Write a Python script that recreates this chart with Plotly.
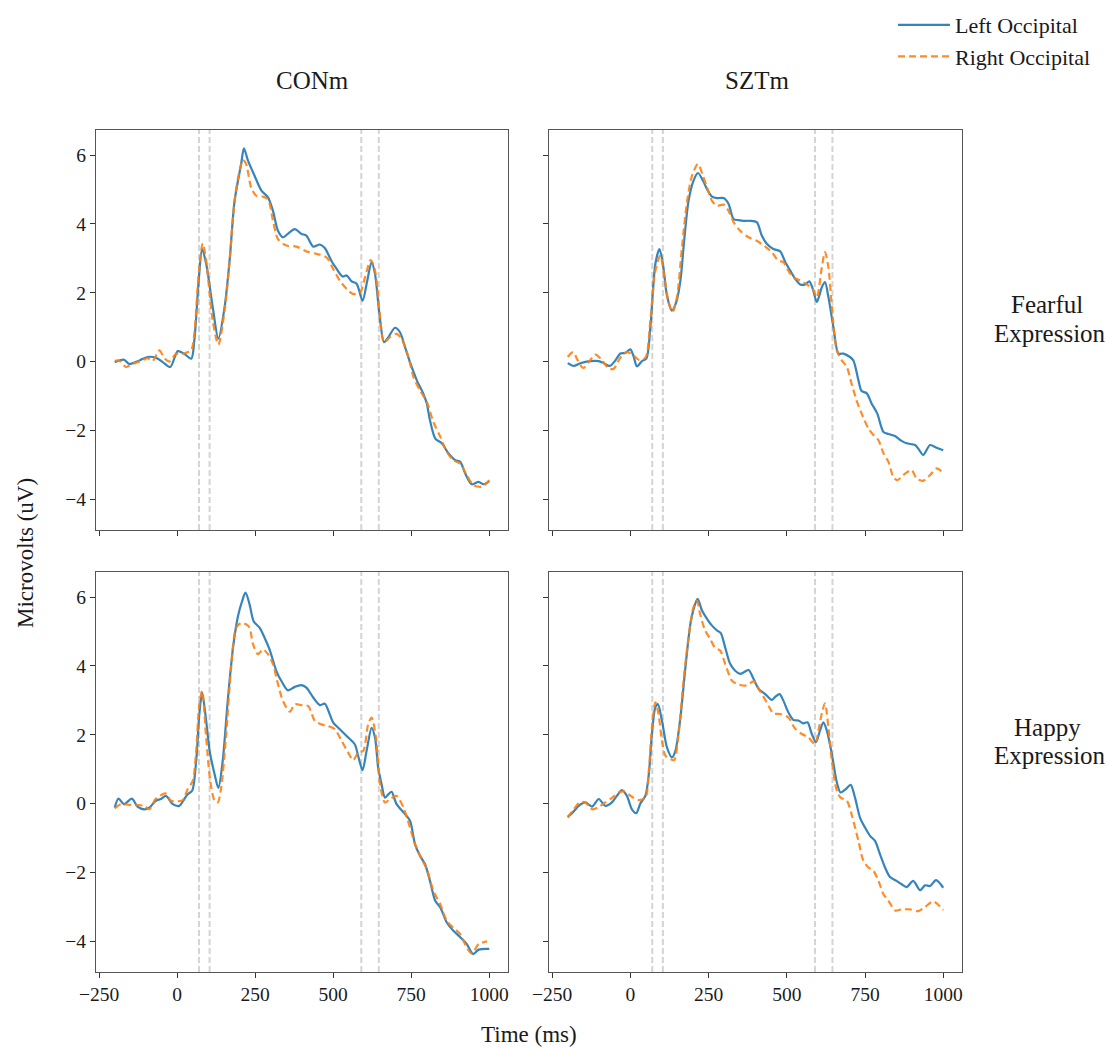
import plotly.graph_objects as go
from plotly.subplots import make_subplots

# ---------------- data ----------------
col_titles = ["CONm", "SZTm"]
row_titles = [["Fearful", "Expression"], ["Happy", "Expression"]]
series_names = ["Left Occipital", "Right Occipital"]
x_ticks = [-250, 0, 250, 500, 750, 1000]
y_ticks = [-4, -2, 0, 2, 4, 6]
marker_times = [70, 104, 590, 646]

# CONm - Fearful
con_fear_left_t = [-200, -170, -154, -121, -95, -68, -46, -22, 2, 23, 45, 55, 69, 80, 93, 114, 132, 152, 168, 184, 205, 214, 227, 248, 270, 291, 307, 323, 339, 361, 377, 398, 414, 436, 457, 473, 494, 511, 530, 543, 559, 575, 594, 609, 623, 634, 648, 663, 677, 698, 714, 730, 746, 768, 789, 800, 810, 827, 848, 869, 891, 907, 923, 944, 966, 982, 1000]
con_fear_left_v = [-0.02, 0.05, -0.07, 0.03, 0.13, 0.11, -0.02, -0.16, 0.3, 0.22, 0.08, 0.61, 2.35, 3.27, 2.84, 1.58, 0.66, 1.58, 2.93, 4.67, 5.74, 6.2, 5.84, 5.4, 4.97, 4.77, 4.38, 3.8, 3.61, 3.76, 3.85, 3.71, 3.66, 3.34, 3.4, 3.3, 2.93, 2.69, 2.47, 2.5, 2.33, 2.26, 1.77, 2.35, 2.89, 2.54, 1.38, 0.56, 0.71, 0.98, 0.85, 0.42, -0.02, -0.55, -0.94, -1.23, -1.71, -2.24, -2.38, -2.67, -2.87, -2.92, -3.26, -3.57, -3.5, -3.57, -3.48]
con_fear_right_t = [-200, -186, -164, -143, -111, -95, -79, -57, -41, -25, -4, 18, 45, 55, 69, 82, 93, 114, 132, 152, 168, 184, 200, 211, 221, 237, 253, 275, 291, 307, 323, 350, 382, 414, 446, 478, 500, 521, 543, 564, 586, 602, 620, 634, 648, 663, 682, 703, 719, 741, 757, 778, 800, 821, 843, 864, 885, 907, 928, 950, 977, 1000]
con_fear_right_v = [0.02, 0.03, -0.16, -0.07, 0.03, 0.1, 0.01, 0.32, 0.1, 0.0, 0.22, 0.22, 0.34, 0.8, 2.54, 3.43, 2.93, 1.19, 0.49, 1.48, 2.93, 4.67, 5.55, 5.86, 5.74, 5.06, 4.82, 4.79, 4.72, 4.1, 3.56, 3.37, 3.34, 3.2, 3.13, 3.03, 2.69, 2.35, 2.11, 1.96, 2.01, 2.45, 2.95, 2.64, 1.48, 0.56, 0.71, 0.8, 0.66, 0.13, -0.45, -0.84, -1.18, -1.76, -2.19, -2.63, -2.87, -2.97, -3.31, -3.6, -3.64, -3.45]

# SZTm - Fearful
szt_fear_left_t = [-200, -181, -160, -128, -101, -85, -66, -48, -32, -16, 0, 11, 21, 37, 51, 64, 80, 93, 104, 117, 133, 147, 160, 172, 186, 202, 216, 232, 245, 261, 277, 298, 314, 330, 346, 362, 383, 404, 420, 436, 457, 479, 495, 511, 527, 543, 559, 572, 583, 596, 612, 622, 633, 649, 665, 681, 702, 713, 729, 739, 755, 771, 789, 809, 825, 846, 867, 883, 910, 920, 936, 958, 979, 1000]
szt_fear_left_v = [-0.05, -0.13, -0.05, 0.01, 0.01, -0.05, -0.13, 0.03, 0.23, 0.25, 0.35, 0.13, -0.14, 0.01, 0.08, 1.0, 2.84, 3.27, 2.84, 1.92, 1.48, 1.73, 2.35, 3.51, 4.67, 5.26, 5.48, 5.26, 5.01, 4.79, 4.75, 4.75, 4.58, 4.14, 4.11, 4.09, 4.09, 4.05, 3.66, 3.42, 3.27, 3.2, 2.89, 2.64, 2.4, 2.24, 2.24, 2.33, 2.11, 1.73, 2.16, 2.31, 1.87, 1.0, 0.23, 0.23, 0.13, 0.03, -0.55, -0.86, -0.92, -1.22, -1.51, -2.05, -2.11, -2.17, -2.31, -2.38, -2.43, -2.53, -2.72, -2.43, -2.51, -2.58]
szt_fear_right_t = [-200, -183, -168, -151, -133, -112, -90, -69, -53, -32, -11, 11, 27, 48, 64, 80, 96, 109, 122, 135, 149, 165, 181, 197, 216, 232, 245, 261, 277, 298, 314, 330, 351, 378, 404, 431, 452, 473, 489, 505, 521, 543, 564, 583, 596, 612, 622, 633, 644, 660, 676, 692, 707, 723, 739, 761, 777, 793, 809, 825, 840, 853, 878, 899, 915, 936, 958, 979, 1000]
szt_fear_right_v = [0.13, 0.27, 0.03, -0.19, -0.02, 0.2, 0.03, -0.21, -0.21, 0.11, 0.27, 0.17, 0.05, 0.11, 1.19, 2.64, 3.08, 2.45, 1.73, 1.44, 1.87, 3.32, 4.63, 5.4, 5.74, 5.4, 5.06, 4.67, 4.53, 4.56, 4.38, 4.05, 3.8, 3.61, 3.51, 3.34, 3.18, 2.93, 2.89, 2.64, 2.45, 2.35, 2.24, 2.11, 1.87, 2.74, 3.18, 2.74, 1.58, 0.32, 0.03, -0.16, -0.64, -1.13, -1.51, -1.95, -2.14, -2.29, -2.67, -2.92, -3.35, -3.45, -3.26, -3.16, -3.4, -3.47, -3.3, -3.11, -3.24]

# CONm - Happy
con_happy_left_t = [-200, -188, -170, -145, -127, -105, -89, -68, -52, -36, -14, 7, 23, 34, 48, 61, 71, 80, 93, 104, 120, 132, 146, 162, 179, 195, 208, 219, 232, 245, 264, 280, 296, 318, 334, 355, 377, 398, 414, 436, 457, 473, 489, 500, 521, 543, 569, 580, 594, 607, 623, 634, 644, 655, 666, 677, 687, 703, 725, 746, 762, 778, 794, 810, 827, 843, 864, 885, 907, 928, 948, 966, 1000]
con_happy_left_v = [-0.12, 0.14, -0.02, 0.14, -0.09, -0.17, -0.12, 0.08, 0.13, 0.22, -0.02, -0.07, 0.13, 0.27, 0.37, 1.24, 2.59, 3.22, 2.4, 1.53, 0.85, 0.45, 1.24, 2.98, 4.53, 5.45, 5.88, 6.13, 5.79, 5.3, 5.11, 4.82, 4.48, 3.85, 3.56, 3.29, 3.39, 3.44, 3.37, 3.08, 2.86, 2.9, 2.59, 2.35, 2.16, 1.96, 1.72, 1.38, 0.97, 1.53, 2.2, 1.91, 1.04, 0.56, 0.17, 0.27, 0.34, -0.02, -0.26, -0.5, -1.18, -1.52, -1.76, -2.25, -2.83, -3.02, -3.46, -3.7, -3.89, -4.09, -4.38, -4.25, -4.23]
con_happy_right_t = [-200, -180, -154, -122, -105, -89, -68, -36, -20, 2, 18, 34, 50, 61, 71, 80, 93, 106, 120, 130, 141, 157, 173, 189, 205, 221, 232, 243, 259, 275, 291, 307, 323, 339, 361, 377, 398, 420, 441, 462, 484, 505, 527, 548, 564, 580, 596, 612, 623, 637, 650, 666, 682, 703, 725, 746, 762, 784, 800, 821, 843, 864, 885, 907, 928, 944, 966, 993]
con_happy_right_v = [-0.14, -0.02, -0.04, -0.05, -0.07, -0.17, 0.14, 0.29, 0.08, 0.06, 0.1, 0.42, 0.66, 1.53, 2.88, 3.27, 1.91, 0.66, 0.08, 0.03, 0.46, 2.01, 3.95, 5.11, 5.25, 5.21, 5.11, 4.63, 4.34, 4.48, 4.34, 4.05, 3.47, 2.98, 2.67, 2.88, 2.86, 2.83, 2.4, 2.3, 2.25, 2.16, 1.82, 1.48, 1.26, 1.48, 1.53, 2.3, 2.5, 1.91, 0.56, 0.03, 0.13, 0.22, -0.12, -0.7, -1.18, -1.62, -1.91, -2.54, -2.93, -3.42, -3.61, -3.8, -4.19, -4.36, -4.09, -4.01]

# SZTm - Happy
szt_happy_left_t = [-200, -181, -165, -144, -122, -101, -80, -59, -43, -27, -11, 5, 19, 32, 48, 59, 69, 80, 88, 101, 117, 133, 144, 160, 176, 192, 204, 215, 229, 245, 261, 277, 289, 303, 319, 335, 351, 364, 378, 394, 410, 431, 452, 463, 477, 489, 505, 521, 537, 553, 566, 580, 593, 606, 617, 628, 644, 660, 672, 689, 704, 718, 734, 750, 766, 782, 798, 814, 830, 851, 867, 883, 904, 926, 942, 958, 977, 1000]
szt_happy_left_v = [-0.39, -0.23, -0.07, 0.03, -0.09, 0.13, -0.07, 0.03, 0.22, 0.39, 0.22, -0.17, -0.28, 0.0, 0.22, 0.85, 2.02, 2.8, 2.89, 2.41, 1.63, 1.34, 1.53, 2.5, 3.96, 5.22, 5.71, 5.95, 5.61, 5.37, 5.17, 5.03, 4.95, 4.54, 4.06, 3.86, 3.77, 3.82, 3.88, 3.62, 3.33, 3.18, 3.01, 3.1, 3.18, 2.99, 2.65, 2.43, 2.41, 2.33, 2.36, 2.02, 1.78, 2.12, 2.36, 2.12, 1.44, 0.61, 0.32, 0.42, 0.54, 0.17, -0.41, -0.7, -0.94, -1.09, -1.48, -1.86, -2.14, -2.25, -2.35, -2.43, -2.25, -2.52, -2.38, -2.4, -2.23, -2.45]
szt_happy_right_t = [-200, -181, -162, -144, -122, -101, -80, -59, -37, -21, -5, 11, 27, 48, 59, 69, 80, 90, 101, 112, 128, 140, 154, 170, 186, 202, 213, 223, 239, 255, 271, 287, 303, 325, 346, 372, 394, 415, 436, 457, 479, 505, 527, 548, 569, 590, 603, 614, 622, 633, 644, 660, 672, 692, 707, 729, 745, 761, 777, 793, 809, 825, 846, 867, 894, 920, 942, 968, 1000]
szt_happy_right_v = [-0.41, -0.17, 0.03, 0.03, -0.17, -0.1, 0.03, 0.16, 0.32, 0.35, 0.26, 0.16, 0.1, 0.17, 0.95, 2.21, 2.94, 2.6, 1.83, 1.39, 1.29, 1.26, 2.02, 3.57, 4.83, 5.71, 5.9, 5.51, 5.03, 4.79, 4.52, 4.45, 4.06, 3.57, 3.46, 3.43, 3.55, 3.26, 2.94, 2.62, 2.6, 2.5, 2.17, 2.02, 1.92, 1.73, 2.21, 2.7, 2.91, 2.21, 1.24, 0.37, 0.17, 0.08, -0.31, -1.09, -1.67, -1.86, -1.96, -2.25, -2.64, -2.83, -3.11, -3.08, -3.08, -3.13, -3.01, -2.85, -3.1]

panels = [
    (1, 1, con_fear_left_t, con_fear_left_v, con_fear_right_t, con_fear_right_v),
    (1, 2, szt_fear_left_t, szt_fear_left_v, szt_fear_right_t, szt_fear_right_v),
    (2, 1, con_happy_left_t, con_happy_left_v, con_happy_right_t, con_happy_right_v),
    (2, 2, szt_happy_left_t, szt_happy_left_v, szt_happy_right_t, szt_happy_right_v),
]

# ---------------- figure ----------------
W, H = 1107, 1048
OFF = 0  # page body margin is removed below (post_script)
FONT = "Liberation Serif, Times New Roman, serif"
TXT = "#1a1a1a"
BLUE = "rgba(31,119,180,0.9)"
ORANGE = "rgba(255,127,14,0.9)"

fig = make_subplots(rows=2, cols=2, shared_xaxes=True, shared_yaxes=True)

for i, (r, c, lt, lv, rt, rv) in enumerate(panels):
    fig.add_trace(go.Scatter(x=lt, y=lv, mode="lines", name=series_names[0],
                             line=dict(color=BLUE, width=2.2, shape="spline", smoothing=0.8),
                             showlegend=(i == 0), legendrank=1), row=r, col=c)
    fig.add_trace(go.Scatter(x=rt, y=rv, mode="lines", name=series_names[1],
                             line=dict(color=ORANGE, width=2.2, dash="7px,4px", shape="spline", smoothing=0.8),
                             showlegend=(i == 0), legendrank=2), row=r, col=c)
    for v in marker_times:
        fig.add_vline(x=v, row=r, col=c, layer="below",
                      line=dict(color="#d4d4d4", width=2, dash="6px,3px"))

def px_x(p):
    return (p - OFF) / W

def px_y(p):
    return 1 - (p - OFF) / H

xdom = [[px_x(96), px_x(508)], [px_x(549), px_x(962)]]
ydom = [[px_y(530), px_y(130)], [px_y(972), px_y(572)]]

axis_common = dict(showline=True, mirror=True, linecolor="#555555", linewidth=1,
                   ticks="outside", ticklen=5, tickwidth=1, tickcolor="#333333",
                   showgrid=False, zeroline=False, automargin=False,
                   tickfont=dict(family=FONT, size=19.5, color=TXT))

for idx in range(4):
    r, c = idx // 2, idx % 2
    n = "" if idx == 0 else str(idx + 1)
    fig.layout["xaxis" + n].update(domain=xdom[c], range=[-260, 1060], tickvals=x_ticks,
                                   showticklabels=(r == 1), **axis_common)
    fig.layout["yaxis" + n].update(domain=ydom[r], range=[-4.9, 6.73], tickvals=y_ticks,
                                   showticklabels=(c == 0), **axis_common)

title_font = dict(family=FONT, size=25, color=TXT)
label_font = dict(family=FONT, size=23, color=TXT)
ann = []
ann.append(dict(text=col_titles[0], x=px_x(312), y=px_y(80), font=title_font))
ann.append(dict(text=col_titles[1], x=px_x(757), y=px_y(80), font=title_font))
ann.append(dict(text=row_titles[0][0], x=px_x(1047), y=px_y(305), font=title_font))
ann.append(dict(text=row_titles[0][1], x=px_x(1050), y=px_y(333), font=title_font))
ann.append(dict(text=row_titles[1][0], x=px_x(1047), y=px_y(727), font=title_font))
ann.append(dict(text=row_titles[1][1], x=px_x(1050), y=px_y(755), font=title_font))
ann.append(dict(text="Time (ms)", x=px_x(529), y=px_y(1034), font=label_font))
ann.append(dict(text="Microvolts (uV)", x=px_x(25), y=px_y(553), textangle=-90, font=label_font))
for a in ann:
    a.update(xref="paper", yref="paper", showarrow=False, xanchor="center", yanchor="middle")

fig.update_layout(
    width=W, height=H,
    margin=dict(l=0, r=0, t=0, b=0, autoexpand=False),
    paper_bgcolor="white", plot_bgcolor="white",
    annotations=ann,
    hovermode=False,
    legend=dict(x=px_x(893), y=px_y(4), xanchor="left", yanchor="top",
                font=dict(family=FONT, size=22, color=TXT), bgcolor="rgba(0,0,0,0)",
                itemwidth=52, tracegroupgap=0),
)

fig.write_html("out.html",
               config={"displayModeBar": False},
               post_script="document.body.style.margin='0';document.body.style.overflow='hidden';")
